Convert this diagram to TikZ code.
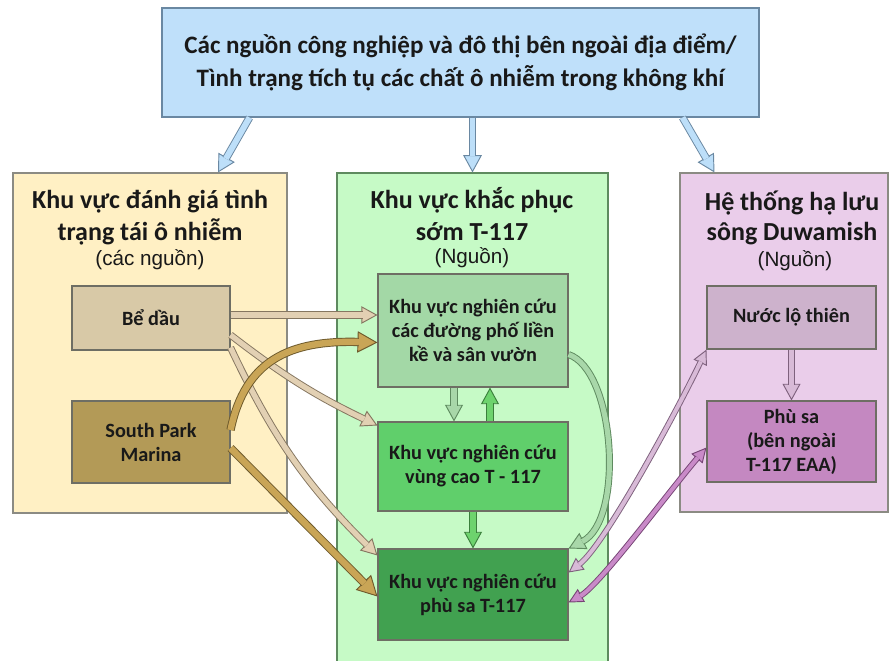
\documentclass[tikz,border=0pt]{standalone}
\usepackage{fontspec}
\setmainfont{Carlito}
\newfontfamily\arialf{Liberation Sans}
\usetikzlibrary{arrows.meta,calc}
\definecolor{topfill}{HTML}{BFE0FA}
\definecolor{lpfill}{HTML}{FFF0C4}
\definecolor{mpfill}{HTML}{C6FAC6}
\definecolor{rpfill}{HTML}{EACDEA}
\definecolor{bdfill}{HTML}{D8C9A7}
\definecolor{spfill}{HTML}{B39A57}
\definecolor{stfill}{HTML}{A3D8A6}
\definecolor{upfill}{HTML}{60CF6B}
\definecolor{sdfill}{HTML}{41A150}
\definecolor{nlfill}{HTML}{CDB2CC}
\definecolor{psfill}{HTML}{C488C1}
\definecolor{blueL}{HTML}{BDDFF9}
\definecolor{blueD}{HTML}{6A88A2}
\definecolor{tanL}{HTML}{E2D0B3}
\definecolor{tanD}{HTML}{857660}
\definecolor{goldL}{HTML}{C9A556}
\definecolor{goldD}{HTML}{6E5A2C}
\definecolor{sgL}{HTML}{A8D7A9}
\definecolor{sgD}{HTML}{5E8A5F}
\definecolor{bgL}{HTML}{6DD36D}
\definecolor{bgD}{HTML}{3A7F3B}
\definecolor{mvL}{HTML}{D8BAD7}
\definecolor{mvD}{HTML}{7E617D}
\definecolor{mgL}{HTML}{C98AC8}
\definecolor{mgD}{HTML}{774576}
\definecolor{edge}{HTML}{6E6E64}
\newcommand\myarr[6]{%
  \draw[line width=0.7pt,draw=#1,-{Triangle[length=#4,width=#5,fill=#2]}] #6;
  \draw[line width=0.7pt,draw=#1,double=#2,double distance=#3,shorten >=#4-1pt] #6;}
\newcommand\mydarr[6]{%
  \draw[line width=0.7pt,draw=#1,{Triangle[length=#4,width=#5,fill=#2]}-{Triangle[length=#4,width=#5,fill=#2]}] #6;
  \draw[line width=0.7pt,draw=#1,double=#2,double distance=#3,shorten >=#4-1pt,shorten <=#4-1pt] #6;}
\begin{document}
\begin{tikzpicture}[x=0.75pt,y=-0.75pt,
  pnl/.style={draw=edge!80, line width=0.8pt, inner sep=0pt},
  bx/.style={draw=edge, line width=0.8pt, inner sep=2pt, align=center, text=black!90,
     font=\bfseries\fontsize{15.2}{18}\selectfont},
  ttl/.style={anchor=base, inner sep=0pt, text=black!90, font=\bfseries\fontsize{19.5}{22}\selectfont},
  sub/.style={anchor=base, inner sep=0pt, text=black!90, font=\arialf\fontsize{15.5}{18}\selectfont}]
\useasboundingbox (0,0) rectangle (891,660);
\fill[white] (0,0) rectangle (891,660);
% top box
\node[bx, fill=topfill, draw=blueD, minimum width=447.75pt, minimum height=81.75pt,
  font=\bfseries\fontsize{18.8}{24.75}\selectfont] (top) at (460.5,62.5)
  {Các nguồn công nghiệp và đô thị bên ngoài địa điểm/\\Tình trạng tích tụ các chất ô nhiễm trong không khí};
% panels
\node[pnl, fill=lpfill, minimum width=205.5pt, minimum height=255pt] (lp) at (150,343) {};
\node[pnl, fill=mpfill, draw=sgD, minimum width=203.25pt, minimum height=369pt] (mp) at (472.5,419) {};
\node[pnl, fill=rpfill, minimum width=156pt, minimum height=254.25pt] (rp) at (784,342.5) {};
% panel titles
\node[ttl] (lt1) at (150,208) {Khu vực đánh giá tình};
\node[ttl] (lt2) at (150,240) {trạng tái ô nhiễm};
\node[sub] (lt3) at (150,265) {(các nguồn)};
\node[ttl] (mt1) at (472,208) {Khu vực khắc phục};
\node[ttl] (mt2) at (472,240) {sớm T-117};
\node[sub] (mt3) at (472,263) {(Nguồn)};
\node[ttl] (rt1) at (792,210) {Hệ thống hạ lưu};
\node[ttl] (rt2) at (792,240) {sông Duwamish};
\node[sub] (rt3) at (795,266) {(Nguồn)};
% inner boxes
\node[bx, fill=bdfill, minimum width=118.5pt, minimum height=48pt] (bd) at (151,318) {Bể dầu};
\node[bx, fill=spfill, minimum width=118.5pt, minimum height=61.5pt] (sp) at (151,442) {South Park\\Marina};
\node[bx, fill=stfill, minimum width=142.5pt, minimum height=84.75pt] (st) at (473,330.5) {Khu vực nghiên cứu\\các đường phố liền\\kề và sân vườn};
\node[bx, fill=upfill, minimum width=142.5pt, minimum height=66.75pt] (up) at (473,466.5) {Khu vực nghiên cứu\\vùng cao T - 117};
\node[bx, fill=sdfill, minimum width=142.5pt, minimum height=68.25pt] (sd) at (473,594.5) {Khu vực nghiên cứu\\phù sa T-117};
\node[bx, fill=nlfill, minimum width=126.75pt, minimum height=47.25pt] (nl) at (791.5,317.5) {Nước lộ thiên};
\node[bx, fill=psfill, minimum width=126.75pt, minimum height=60.75pt] (ps) at (791.5,441.5) {Phù sa\\(bên ngoài\\T-117 EAA)};
% arrows from top box
\myarr{blueD}{blueL}{4.4pt}{13pt}{14pt}{($(top.south west)+(88,0)$) -- ($(lp.north)+(68,0)$)}
\myarr{blueD}{blueL}{4.4pt}{13pt}{14pt}{(top.south -| mp.north) -- (mp.north)}
\myarr{blueD}{blueL}{4.4pt}{13pt}{14pt}{($(top.south east)+(-77,0)$) -- ($(rp.north west)+(35,0)$)}
% oil tank arrows
\myarr{tanD}{tanL}{4pt}{12pt}{13pt}{($(bd.east)+(0,-3)$) -- ($(bd.east -| st.west)+(0,-3)$)}
\myarr{tanD}{tanL}{4pt}{12pt}{13pt}{($(bd.east)+(0,17)$) to[bend right=6] ($(up.north west)+(0,4)$)}
\myarr{tanD}{tanL}{4pt}{12pt}{13pt}{($(bd.south east)+(0,-3)$) to[bend right=10] ($(sd.north west)+(0,7)$)}
% south park marina arrows
\myarr{goldD}{goldL}{4.8pt}{15pt}{16pt}{($(sp.east)+(0,-12)$) .. controls (245,360) and (290,340) .. ($(st.west)+(0,12)$)}
\myarr{goldD}{goldL}{4.8pt}{15pt}{16pt}{($(sp.east)+(0,6)$) -- ($(sd.west)+(0,2)$)}
% internal green arrows
\myarr{sgD}{sgL}{4.2pt}{12.5pt}{13.5pt}{($(st.south)+(-19,0)$) -- ($(up.north)+(-19,0)$)}
\myarr{bgD}{bgL}{4.2pt}{12.5pt}{13.5pt}{($(up.north)+(17,0)$) -- ($(st.south)+(17,0)$)}
\myarr{bgD}{bgL}{4.2pt}{12.5pt}{13.5pt}{(up.south) -- (sd.north)}
\myarr{sgD}{sgL}{3.8pt}{12.5pt}{13.5pt}{($(st.east)+(0,24)$) .. controls (615,370) and (625,520) .. (sd.north east)}
% right side arrows
\myarr{mvD}{mvL}{4.2pt}{12.5pt}{13.5pt}{(nl.south) -- (ps.north)}
\mydarr{mvD}{mvL}{3pt}{11pt}{11pt}{(nl.south west) .. controls (680,405) and (605,545) .. ($(sd.east)+(0,-22)$)}
\mydarr{mgD}{mgL}{3pt}{11pt}{11pt}{($(ps.west)+(0,6)$) .. controls (670,490) and (600,585) .. ($(sd.east)+(0,8)$)}
\end{tikzpicture}
\end{document}
